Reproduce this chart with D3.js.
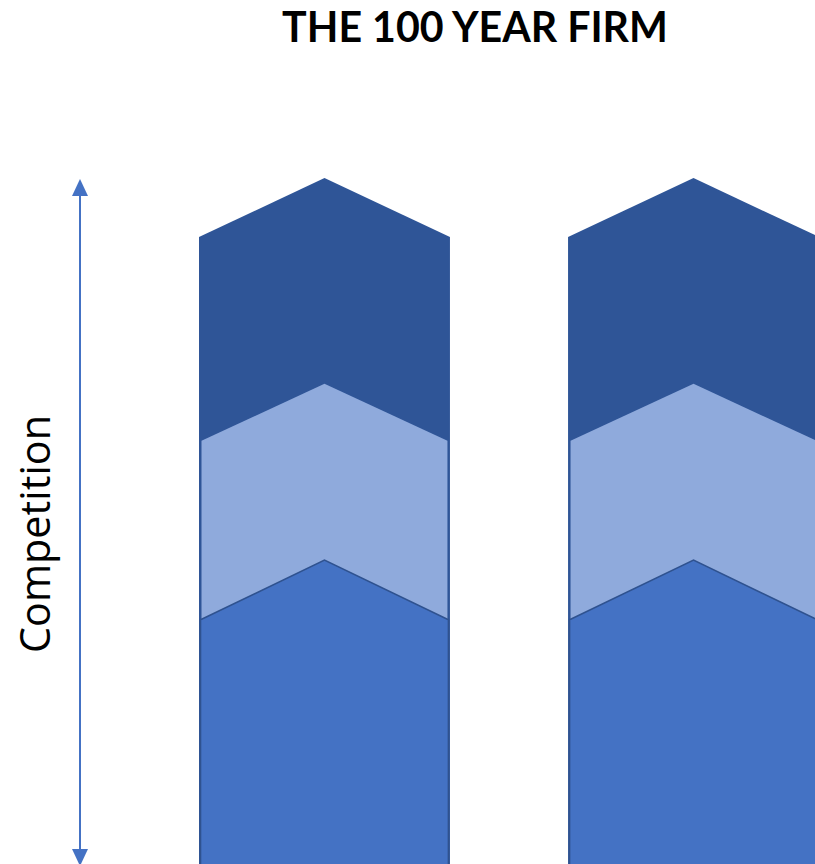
<!DOCTYPE html>
<html>
<head>
<meta charset="utf-8">
<script src="https://cdn.jsdelivr.net/npm/d3@7/dist/d3.min.js"></script>
<style>
  html, body { margin: 0; padding: 0; background: #fff; overflow: hidden; }
  svg { display: block; }
</style>
</head>
<body>
<svg id="chart" width="815" height="864"></svg>
<script>
// ---- data ----
const title = "THE 100 YEAR FIRM";
const axisLabel = "Competition";
const firms = ["Firm A", "Firm B"];
const layerNames = ["top", "middle", "base"];
const layerPeak = [100, 70.0, 44.3];      // competition level at chevron tip
const layerShoulder = [91.4, 61.7, 35.6]; // competition level at chevron sides
const layerColors = ["#2F5597", "#8FAADC", "#4472C4"];
const layerInset = [0, 2.5, 1.5];
const layerStroke = ["none", "none", "#2F528F"];

// ---- layout ----
const W = 815, H = 864;
const svg = d3.select("#chart");

const y = d3.scaleLinear().domain([0, 100]).range([864, 178]);
const x = d3.scaleBand().domain(firms).range([199, 819]).paddingInner(0.32).paddingOuter(0);

// title
const t = svg.append("text")
  .attr("x", 475).attr("y", 42)
  .attr("text-anchor", "middle")
  .attr("font-family", "Lato, 'Open Sans', sans-serif")
  .attr("font-weight", "bold")
  .attr("font-size", 40)
  .attr("fill", "#000")
  .text(title);
const tw = t.node().getComputedTextLength();
t.attr("font-size", 40 * 386 / tw);

// chevron layers
const layers = layerNames.map((n, i) => ({
  name: n, peak: layerPeak[i], shoulder: layerShoulder[i],
  color: layerColors[i], inset: layerInset[i], stroke: layerStroke[i]
}));

firms.forEach(f => {
  const g = svg.append("g");
  g.selectAll("path").data(layers).join("path")
    .attr("d", d => {
      const x0 = x(f) + d.inset, x1 = x(f) + x.bandwidth() - d.inset;
      const xm = x(f) + x.bandwidth() / 2;
      const bottom = H + 10;
      return d3.line()([[x0, bottom], [x0, y(d.shoulder)], [xm, y(d.peak)], [x1, y(d.shoulder)], [x1, bottom]]) + "Z";
    })
    .attr("fill", d => d.color)
    .attr("stroke", d => d.stroke)
    .attr("stroke-width", 1.6)
    .attr("stroke-linejoin", "miter");
});

// competition axis (double arrow)
const ax = 80;
const arrowTop = y(100) + 1, arrowBottom = 866;
svg.append("line")
  .attr("x1", ax).attr("x2", ax)
  .attr("y1", arrowTop + 14).attr("y2", arrowBottom - 14)
  .attr("stroke", "#4472C4").attr("stroke-width", 2);
svg.append("path")
  .attr("d", d3.line()([[ax, arrowTop], [ax - 8, arrowTop + 17], [ax + 8, arrowTop + 17]]) + "Z")
  .attr("fill", "#4472C4");
svg.append("path")
  .attr("d", d3.line()([[ax, arrowBottom], [ax - 8, arrowBottom - 17], [ax + 8, arrowBottom - 17]]) + "Z")
  .attr("fill", "#4472C4");

// axis label
const lab = svg.append("text")
  .attr("transform", "translate(50,534) rotate(-90)")
  .attr("text-anchor", "middle")
  .attr("font-family", "Open Sans, sans-serif")
  .attr("font-size", 42)
  .attr("fill", "#000")
  .text(axisLabel);
const lw = lab.node().getComputedTextLength();
lab.attr("font-size", 42 * 238 / lw);
</script>
</body>
</html>
